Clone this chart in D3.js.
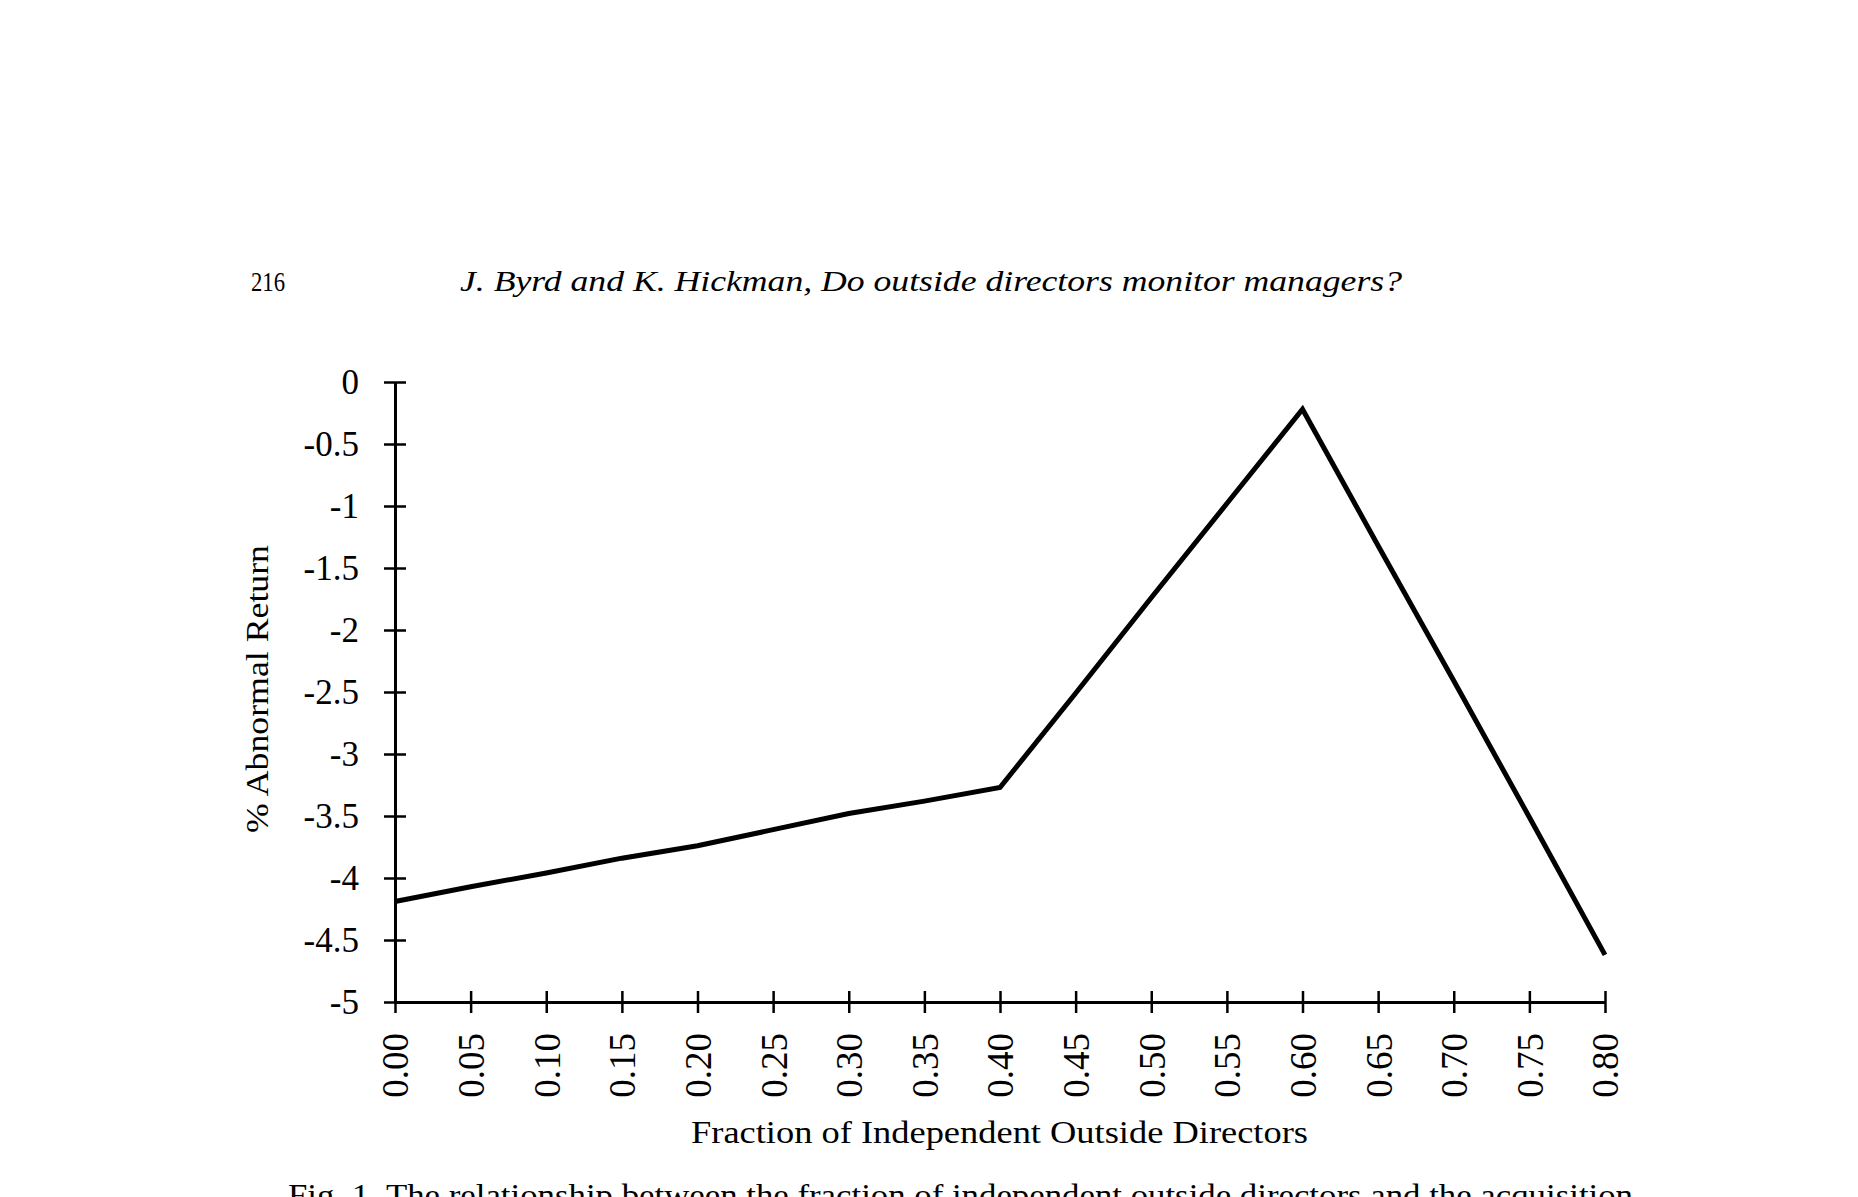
<!DOCTYPE html>
<html>
<head>
<meta charset="utf-8">
<script src="https://cdn.jsdelivr.net/npm/d3@7"></script>
<style>
	body { margin: 0; background: #fff; }
	text { font-family: "Liberation Serif", "DejaVu Serif", serif; fill: #000; }
</style>
</head>
<body>
<svg id="fig" width="1858" height="1197"></svg>
<script>
// fraction of independent outside directors
var fractions = [0.00, 0.05, 0.10, 0.15, 0.20, 0.25, 0.30, 0.35, 0.40, 0.45, 0.50, 0.55, 0.60, 0.65, 0.70, 0.75, 0.80];
// % abnormal return
var returns = [-4.19, -4.07, -3.96, -3.84, -3.74, -3.61, -3.48, -3.38, -3.27, -2.51, -1.74, -0.98, -0.22, -1.32, -2.41, -3.51, -4.62];

var xTicks = [0.00, 0.05, 0.10, 0.15, 0.20, 0.25, 0.30, 0.35, 0.40, 0.45, 0.50, 0.55, 0.60, 0.65, 0.70, 0.75, 0.80];
var yTicks = [0, -0.5, -1, -1.5, -2, -2.5, -3, -3.5, -4, -4.5, -5];

var pageNumber = "216";
var runningHead = "J. Byrd and K. Hickman, Do outside directors monitor managers?";
var xTitle = "Fraction of Independent Outside Directors";
var yTitle = "% Abnormal Return";
var caption = "Fig. 1. The relationship between the fraction of independent outside directors and the acquisition";

var svg = d3.select('#fig'),
	margin = {top: 382, right: 253, bottom: 195, left: 395},
	width = +svg.attr("width") - margin.left - margin.right,
	height = +svg.attr("height") - margin.top - margin.bottom;

var x = d3.scaleLinear()
	.domain([0, 0.8])
	.range([0, width]);
var y = d3.scaleLinear()
	.domain([-5, 0])
	.range([height, 0]);

// page header (the scan is stretched sideways, so widths are forced)
svg.append("text")
	.attr("x", 251)
	.attr("y", 291)
	.attr("textLength", 34)
	.attr("lengthAdjust", "spacingAndGlyphs")
	.style("font-size", "28px")
	.text(pageNumber);
svg.append("text")
	.attr("x", 460)
	.attr("y", 291)
	.attr("textLength", 942)
	.attr("lengthAdjust", "spacingAndGlyphs")
	.style("font-size", "29px")
	.style("font-style", "italic")
	.text(runningHead);

var chart = svg.append("g")
	.attr("transform", "translate(" + margin.left + "," + margin.top + ")");

// y axis, ticks cross the line
var yAxis = chart.append("g")
	.attr("class", "axis axis-y")
	.call(d3.axisLeft(y)
		.tickValues(yTicks)
		.tickSize(0)
		.tickPadding(36)
		.tickFormat(function(d) { return String(d); }));
yAxis.select(".domain").attr("stroke-width", 3);
yAxis.selectAll(".tick line")
	.attr("x1", -11).attr("x2", 11)
	.attr("stroke-width", 2.5);
yAxis.selectAll("text")
	.style("font-size", "35px")
	.style("font-family", "Liberation Serif");

// x axis
var xAxis = chart.append("g")
	.attr("class", "axis axis-x")
	.attr("transform", "translate(0," + height + ")")
	.call(d3.axisBottom(x)
		.tickValues(xTicks)
		.tickSize(0)
		.tickFormat(d3.format(".2f")));
xAxis.select(".domain").attr("stroke-width", 3);
xAxis.selectAll(".tick line")
	.attr("y1", -11).attr("y2", 11)
	.attr("stroke-width", 2.5);
xAxis.selectAll("text")
	.attr("transform", "rotate(-90)")
	.attr("x", -31)
	.attr("y", 0)
	.attr("dy", "0.35em")
	.attr("text-anchor", "end")
	.style("font-size", "37px")
	.style("font-family", "Liberation Serif");

// the data line
var line = d3.line()
	.x(function(d, i) { return x(fractions[i]); })
	.y(function(d) { return y(d); });

chart.append("path")
	.datum(returns)
	.attr("fill", "none")
	.attr("stroke", "#000")
	.attr("stroke-width", 5)
	.attr("stroke-linejoin", "miter")
	.attr("d", line);

// axis titles
svg.append("text")
	.attr("x", 691)
	.attr("y", 1143)
	.attr("textLength", 617)
	.attr("lengthAdjust", "spacingAndGlyphs")
	.style("font-size", "32px")
	.text(xTitle);
svg.append("text")
	.attr("transform", "translate(268,833) rotate(-90)")
	.attr("textLength", 288)
	.attr("lengthAdjust", "spacingAndGlyphs")
	.style("font-size", "31px")
	.text(yTitle);

// caption, cut off by the page edge as in the scan
svg.append("text")
	.attr("x", 288)
	.attr("y", 1206)
	.attr("textLength", 1345)
	.attr("lengthAdjust", "spacingAndGlyphs")
	.style("font-size", "31px")
	.text(caption);
</script>
</body>
</html>
